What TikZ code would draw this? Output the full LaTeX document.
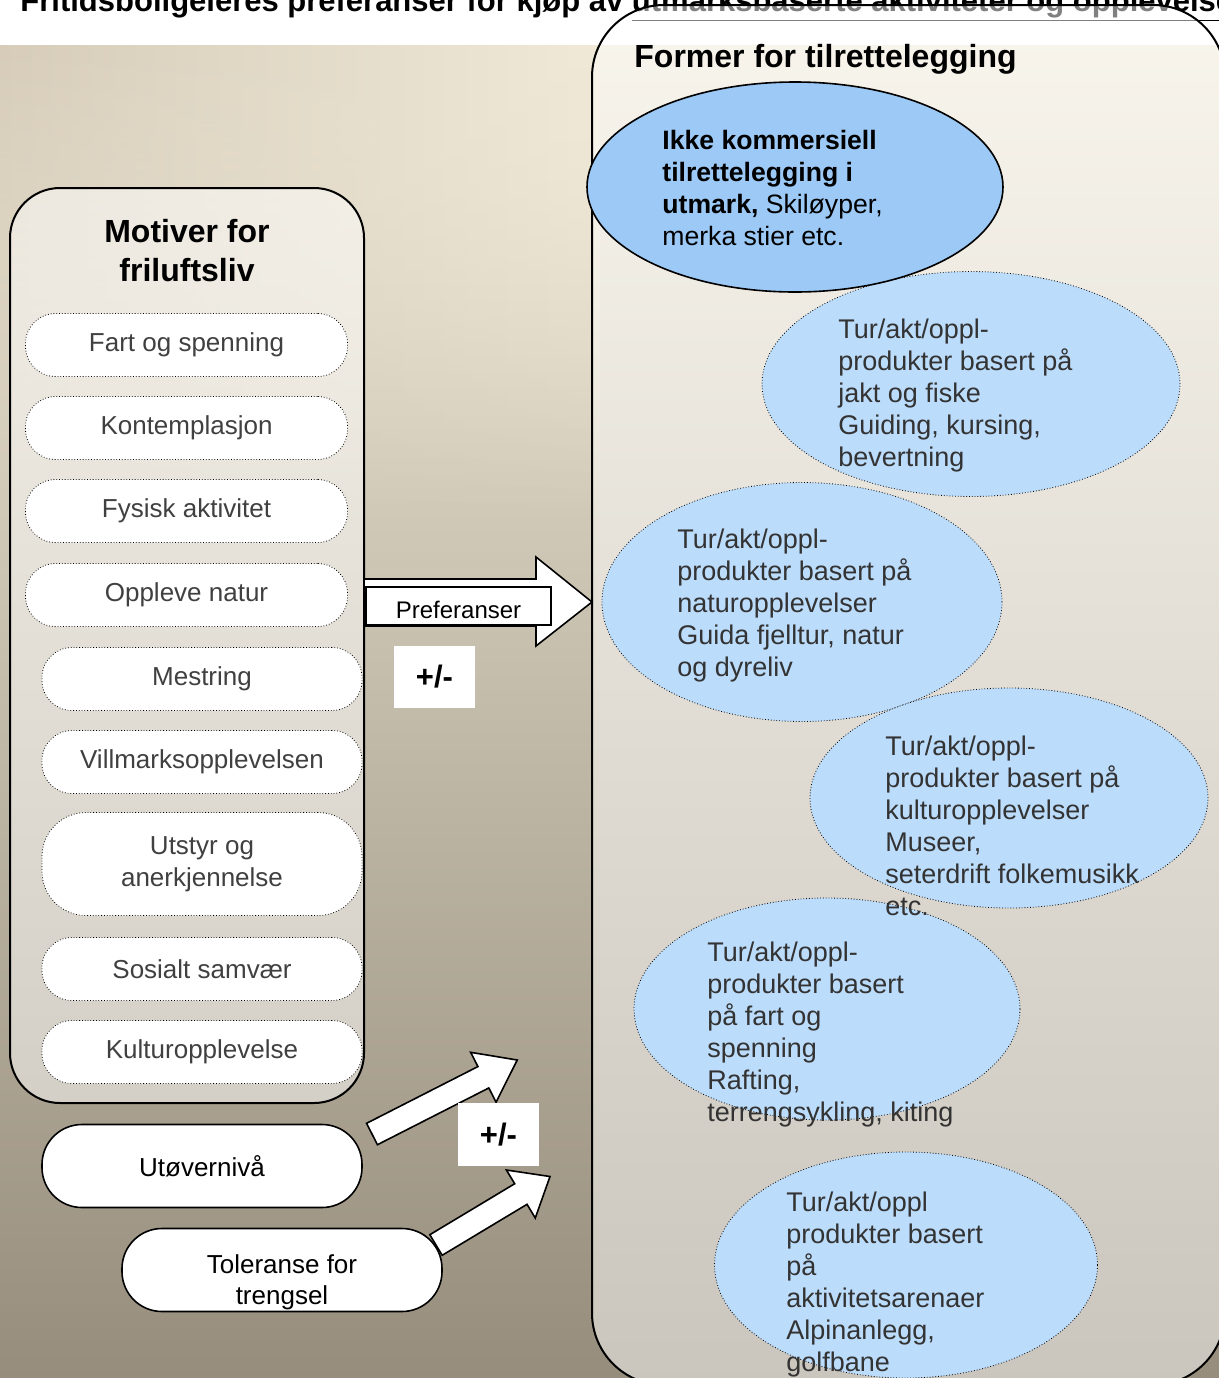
\documentclass[tikz,border=0pt]{standalone}
\usepackage{fontspec}
\setmainfont{Liberation Sans}
\usepackage{xcolor}
\usepackage{tikz}
\usetikzlibrary{positioning,shapes.geometric,fadings}

\definecolor{bgtop}{RGB}{240,233,216}
\definecolor{bgleft}{RGB}{214,204,185}
\definecolor{bgmid}{RGB}{203,193,175}
\definecolor{bgbot}{RGB}{150,141,124}
\definecolor{skyblue}{RGB}{156,201,246}
\definecolor{paleblue}{RGB}{188,220,251}

\begin{document}
\begin{tikzpicture}[x=0.5pt, y=-0.5pt,
	bigbox/.style={draw, line width=1pt, fill=white, fill opacity=0.5, inner sep=0pt},
	motiv/.style={draw, densely dotted, fill=white, rounded corners=15pt, minimum width=161pt, minimum height=31.5pt, inner sep=0pt, align=center, text=black!75, font=\fontsize{13}{16}\selectfont},
	tur/.style={draw, densely dotted, ellipse, fill=paleblue, inner sep=0pt},
	turtext/.style={anchor=north west, inner sep=0pt, align=left, text=black!80, font=\fontsize{13.5}{16}\selectfont},
	niva/.style={draw, line width=0.8pt, fill=white, rounded corners=20pt, minimum width=160pt, minimum height=41.5pt, inner sep=0pt, align=center, font=\fontsize{13}{16}\selectfont},
	plusminus/.style={fill=white, minimum width=40.5pt, minimum height=31pt, font=\fontsize{15.5}{18}\selectfont\bfseries},
	blockarrow/.style={draw, line width=0.8pt, fill=white},
	hdr/.style={font=\fontsize{16}{19.5}\selectfont\bfseries}
]
	\useasboundingbox (0,0) rectangle (1219,1378);
	\fill[white] (0,0) rectangle (1219,1378);
	\shade[top color=bgtop, middle color=bgmid, bottom color=bgbot] (0,45) rectangle (1219,1378);
	\shade[left color=bgleft, right color=bgtop, path fading=south] (0,45) rectangle (600,520);

	\node[anchor=base west, inner sep=0pt, font=\fontsize{15.5}{18}\selectfont\bfseries] (title) at (20,11) {Fritidsboligeieres preferanser for kjøp av \underline{utmarksbaserte aktiviteter og opplevelser}};

	\node[bigbox, rounded corners=36pt, minimum width=316.5pt, minimum height=690pt] (former) at (908.5,695) {};
	\node[bigbox, rounded corners=25pt, minimum width=177pt, minimum height=457.5pt] (motiver) at (187,645.5) {};

	\node[hdr, anchor=base west, inner sep=0pt] (formertitle) at (634,67) {Former for tilrettelegging};
	\node[hdr, anchor=north, align=center, inner sep=0pt] (motivtitle) at (187,219) {Motiver for\\friluftsliv};

	\node[tur, minimum width=209pt, minimum height=112.5pt] (jakt) at (971,384) {};
	\node[tur, minimum width=200pt, minimum height=119.5pt] (natur) at (802,602) {};
	\node[tur, minimum width=199pt, minimum height=110pt] (kultur) at (1009,798) {};
	\node[tur, minimum width=193pt, minimum height=111pt] (fart) at (827,1009) {};
	\node[tur, minimum width=191.5pt, minimum height=113pt] (arena) at (906,1265) {};

	\node[turtext] (jakttext) at (838,319) {Tur/akt/oppl-\\produkter basert på\\jakt og fiske\\Guiding, kursing,\\bevertning};
	\node[turtext] (naturtext) at (677,529) {Tur/akt/oppl-\\produkter basert på\\naturopplevelser\\Guida fjelltur, natur\\og dyreliv};
	\node[turtext] (kulturtext) at (885,736) {Tur/akt/oppl-\\produkter basert på\\kulturopplevelser\\Museer,\\seterdrift folkemusikk\\etc.};
	\node[turtext] (farttext) at (707,942) {Tur/akt/oppl-\\produkter basert\\på fart og\\spenning\\Rafting,\\terrengsykling, kiting};
	\node[turtext] (arenatext) at (786,1192) {Tur/akt/oppl\\produkter basert\\på\\aktivitetsarenaer\\Alpinanlegg,\\golfbane};

	\node[draw, line width=0.8pt, ellipse, fill=skyblue, inner sep=0pt, minimum width=208pt, minimum height=105pt] (ikkekomm) at (795,187) {};
	\node[turtext, text=black, font=\fontsize{13.3}{16}\selectfont] (ikkekommtext) at (662,130) {\textbf{Ikke kommersiell}\\\textbf{tilrettelegging i}\\\textbf{utmark,} Skiløyper,\\merka stier etc.};

	\node[motiv] (m1) at (186.5,345) {Fart og spenning};
	\node[motiv] (m2) at (186.5,428) {Kontemplasjon};
	\node[motiv] (m3) at (186.5,511) {Fysisk aktivitet};
	\node[motiv] (m4) at (186.5,595) {Oppleve natur};
	\node[motiv, minimum width=160pt] (m5) at (202,679) {Mestring};
	\node[motiv, minimum width=160pt] (m6) at (202,762) {Villmarksopplevelsen};
	\node[motiv, minimum width=160pt, minimum height=51.5pt, rounded corners=22pt] (m7) at (202,864) {Utstyr og\\anerkjennelse};
	\node[motiv, minimum width=160pt] (m8) at (202,969) {Sosialt samvær};
	\node[motiv, minimum width=160pt] (m9) at (202,1052) {Kulturopplevelse};

	\node[niva] (utover) at (202,1166) {Utøvernivå};
	\node[niva] (toleranse) at (282,1270) {};
	\node[align=center, inner sep=0pt, font=\fontsize{13}{15.5}\selectfont] (toleransetext) at (282,1282) {Toleranse for\\trengsel};

	\draw[blockarrow] (364,579) -- (536,579) -- (536,557) -- (592,602) -- (536,646) -- (536,626) -- (364,626) -- cycle;
	\node[draw, line width=0.8pt, fill=white, minimum width=92.5pt, minimum height=19pt, inner sep=0pt, text height=15pt, text depth=2.5pt, font=\fontsize{12}{14}\selectfont] (pref) at (458.5,606) {Preferanser\hspace{16pt}};

	\node[plusminus] (plusa) at (434.5,677) {+/-};

	\begin{scope}[shift={(372,1134)}, rotate=27]
		\draw[blockarrow] (0,-12) -- (125,-12) -- (125,-28) -- (163,0) -- (125,28) -- (125,12) -- (0,12) -- cycle;
	\end{scope}
	\begin{scope}[shift={(436,1245)}, rotate=31]
		\draw[blockarrow] (0,-12) -- (99,-12) -- (99,-28) -- (133,0) -- (99,28) -- (99,12) -- (0,12) -- cycle;
	\end{scope}

	\node[plusminus, minimum height=31.5pt] (plusb) at (498.5,1134.5) {+/-};
\end{tikzpicture}
\end{document}
